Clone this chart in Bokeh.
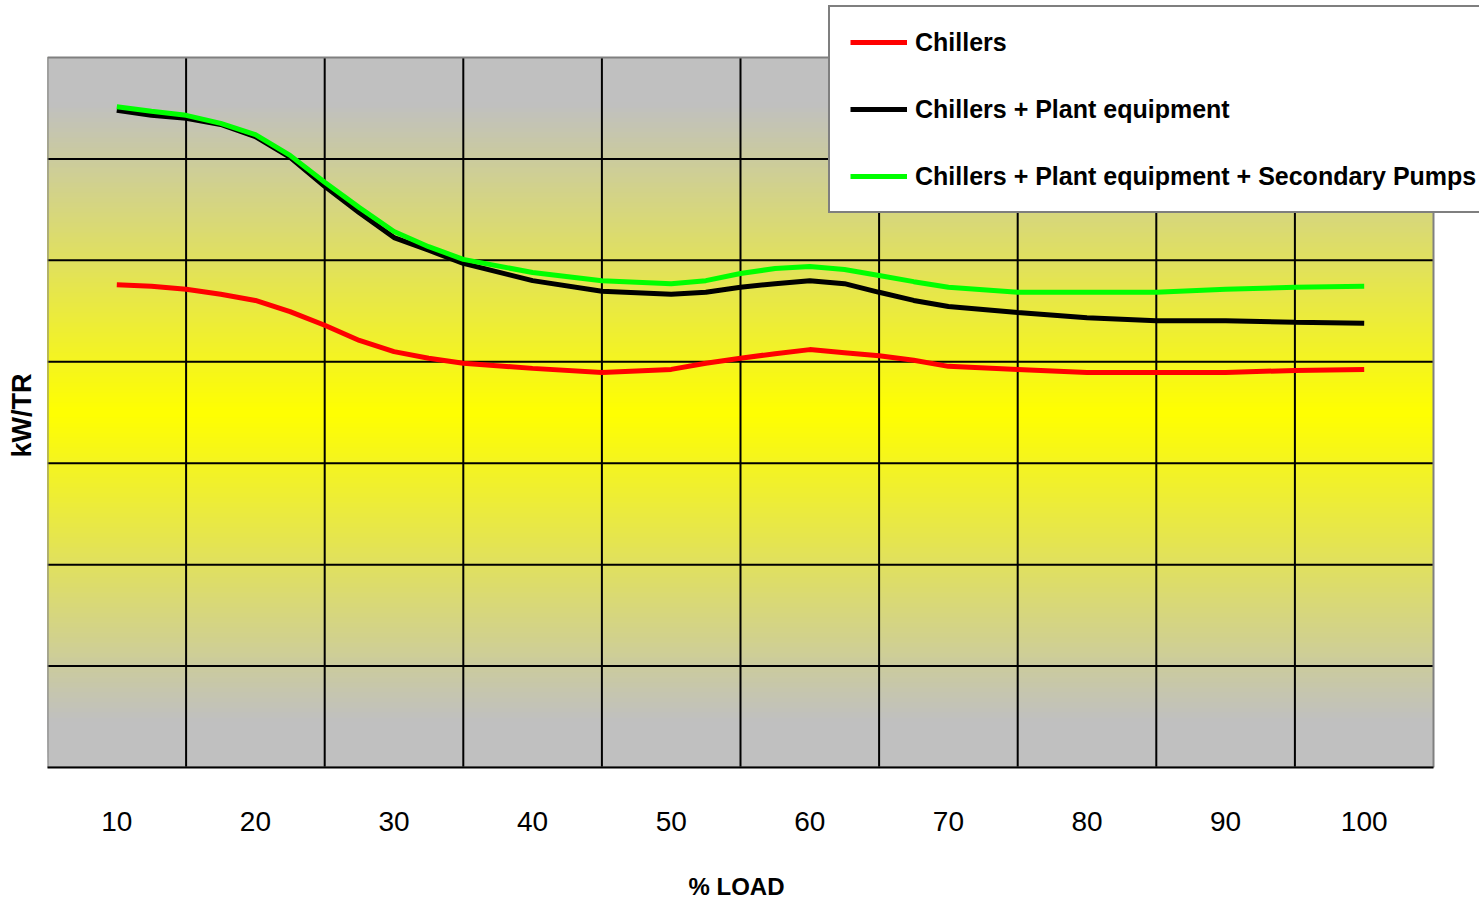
from bokeh.plotting import figure
from bokeh.models import (Range1d, FixedTicker, Legend, LegendItem, ColumnDataSource,
                          Title, LinearAxis)
from bokeh.embed import file_html
from bokeh.resources import INLINE

# ---- data ----
load_pct = [10, 12.5, 15, 17.5, 20, 22.5, 25, 27.5, 30, 32.5, 35, 40, 45, 50, 52.5,
            55, 57.5, 60, 62.5, 65, 67.5, 70, 75, 80, 85, 90, 95, 100]
chillers = [0.952, 0.949, 0.943, 0.933, 0.921, 0.899, 0.872, 0.842, 0.820, 0.807, 0.797,
            0.787, 0.779, 0.785, 0.797, 0.807, 0.816, 0.824, 0.818, 0.812, 0.803, 0.791,
            0.785, 0.779, 0.779, 0.779, 0.783, 0.785]
chillers_plant = [1.296, 1.286, 1.280, 1.268, 1.244, 1.203, 1.146, 1.094, 1.045, 1.020, 0.994,
                  0.960, 0.939, 0.933, 0.937, 0.947, 0.954, 0.960, 0.954, 0.937, 0.921, 0.909,
                  0.897, 0.887, 0.881, 0.881, 0.878, 0.876]
chillers_plant_pumps = [1.303, 1.294, 1.286, 1.270, 1.248, 1.207, 1.154, 1.104, 1.057, 1.027, 1.002,
                        0.976, 0.960, 0.954, 0.960, 0.974, 0.984, 0.988, 0.982, 0.970, 0.958, 0.947,
                        0.937, 0.937, 0.937, 0.943, 0.947, 0.949]
x_ticks = [10, 20, 30, 40, 50, 60, 70, 80, 90, 100]
x_grid = [15, 25, 35, 45, 55, 65, 75, 85, 95]
y_grid = [0.2, 0.4, 0.6, 0.8, 1.0, 1.2]
series_names = ["Chillers", "Chillers + Plant equipment",
                "Chillers + Plant equipment + Secondary Pumps"]
x_title = "% LOAD"
y_title = "kW/TR"

# plot-area extent in data units
X0, X1, Y0, Y1 = 5, 105, 0.0, 1.4
XM, YM = (X0 + X1) / 2, (Y0 + Y1) / 2
FONT = "Liberation Sans"

# The frame is extended up and to the right so the legend box (which sits
# partly above / right of the plot area) is not clipped.
PLOT_W, FRAME_W = 1386, 1432
PLOT_H, FRAME_H = 710, 763
x_end = X0 + (X1 - X0) * FRAME_W / PLOT_W
y_end = Y0 + (Y1 - Y0) * FRAME_H / PLOT_H

p = figure(width=1479, height=903, output_backend="svg", toolbar_location=None,
           x_range=Range1d(X0, x_end), y_range=Range1d(Y0, y_end),
           min_border_left=47, min_border_right=0, min_border_top=4,
           min_border_bottom=136, background_fill_color="white",
           border_fill_color="white")
p.outline_line_color = None
p.xgrid.visible = False
p.ygrid.visible = False

# ---- gradient background (gray - yellow - gray) ----
N = 142
gray = (192, 192, 192)
yel = (255, 255, 0)
bots, cols = [], []
for i in range(N):
    t = (i + 0.5) / N
    d = min(1.0, abs(t - 0.5) * 2 * 1.15)
    c = tuple(int(round(yel[k] * (1 - d) + gray[k] * d)) for k in range(3))
    bots.append(Y0 + (Y1 - Y0) * i / N)
    cols.append("#%02x%02x%02x" % c)
bg = ColumnDataSource(dict(b=bots, c=cols))
r_bg = p.quad(left=X0, right=X1, bottom="b", top=Y1, fill_color="c",
              line_color=None, source=bg)
r_bg.level = "image"

# ---- grid lines (limited to the plot area) ----
gv = p.segment(x0=x_grid, x1=x_grid, y0=[Y0] * len(x_grid), y1=[Y1] * len(x_grid),
               line_color="black", line_width=2)
gh = p.segment(x0=[X0] * len(y_grid), x1=[X1] * len(y_grid), y0=y_grid, y1=y_grid,
               line_color="black", line_width=2)
box = p.quad(left=X0, right=X1, bottom=Y0, top=Y1, fill_color=None,
             line_color="#808080", line_width=2)
for r in (gv, gh, box):
    r.level = "underlay"

# ---- lines ----
r1 = p.line(load_pct, chillers, line_color="#FF0000", line_width=5)
r2 = p.line(load_pct, chillers_plant, line_color="#000000", line_width=5)
r3 = p.line(load_pct, chillers_plant_pumps, line_color="#00FF00", line_width=5)

# ---- axes ----
xa = p.xaxis[0]
xa.ticker = FixedTicker(ticks=x_ticks)
xa.bounds = (X0, X1)
xa.axis_line_color = "black"
xa.axis_line_width = 2
xa.major_tick_line_color = None
xa.minor_tick_line_color = None
xa.major_tick_out = 0
xa.major_tick_in = 0
xa.minor_tick_out = 0
xa.major_label_text_font = FONT
xa.major_label_text_font_size = "28px"
xa.major_label_text_color = "black"
xa.major_label_standoff = 44

ya = p.yaxis[0]
ya.ticker = FixedTicker(ticks=[YM])
ya.major_label_overrides = {YM: ""}
ya.bounds = (Y0, Y1)
ya.axis_line_color = None
ya.major_tick_line_color = None
ya.minor_tick_line_color = None
ya.major_tick_out = 10          # empty space between plot and y title
ya.major_tick_in = 0
ya.minor_tick_out = 0
ya.major_label_standoff = 0
ya.major_label_text_font_size = "1px"

# empty spacer axis between the tick labels and the x title
spacer = LinearAxis(ticker=FixedTicker(ticks=[XM]), major_label_overrides={XM: ""},
                    axis_line_color=None,
                    major_tick_line_color=None, minor_tick_line_color=None,
                    major_tick_out=38, major_tick_in=0, minor_tick_out=0,
                    major_label_standoff=0, major_label_text_font_size="1px")
p.add_layout(spacer, "below")

# axis titles, centred on the plot area (not on the extended frame)
tx = Title(text=x_title, align="left", offset=641, vertical_align="middle",
           standoff=0, text_font=FONT, text_font_size="24px",
           text_font_style="bold", text_color="black")
p.add_layout(tx, "below")
ty = Title(text=y_title, align="left", offset=310, vertical_align="middle",
           standoff=0, text_font=FONT, text_font_size="27px",
           text_font_style="bold", text_color="black")
p.add_layout(ty, "left")

# ---- legend ----
legend = Legend(items=[LegendItem(label=series_names[0], renderers=[r1]),
                       LegendItem(label=series_names[1], renderers=[r2]),
                       LegendItem(label=series_names[2], renderers=[r3])],
                location=(781, 554), orientation="vertical",
                margin=0, padding=20, spacing=37,
                glyph_width=57, glyph_height=30, label_height=30,
                label_standoff=8,
                label_text_font=FONT, label_text_font_size="25px",
                label_text_font_style="bold", label_text_color="black",
                border_line_color="black", border_line_width=2,
                background_fill_color="white", background_fill_alpha=1.0)
p.add_layout(legend, "center")

open("out.html", "w").write(file_html(p, INLINE))
